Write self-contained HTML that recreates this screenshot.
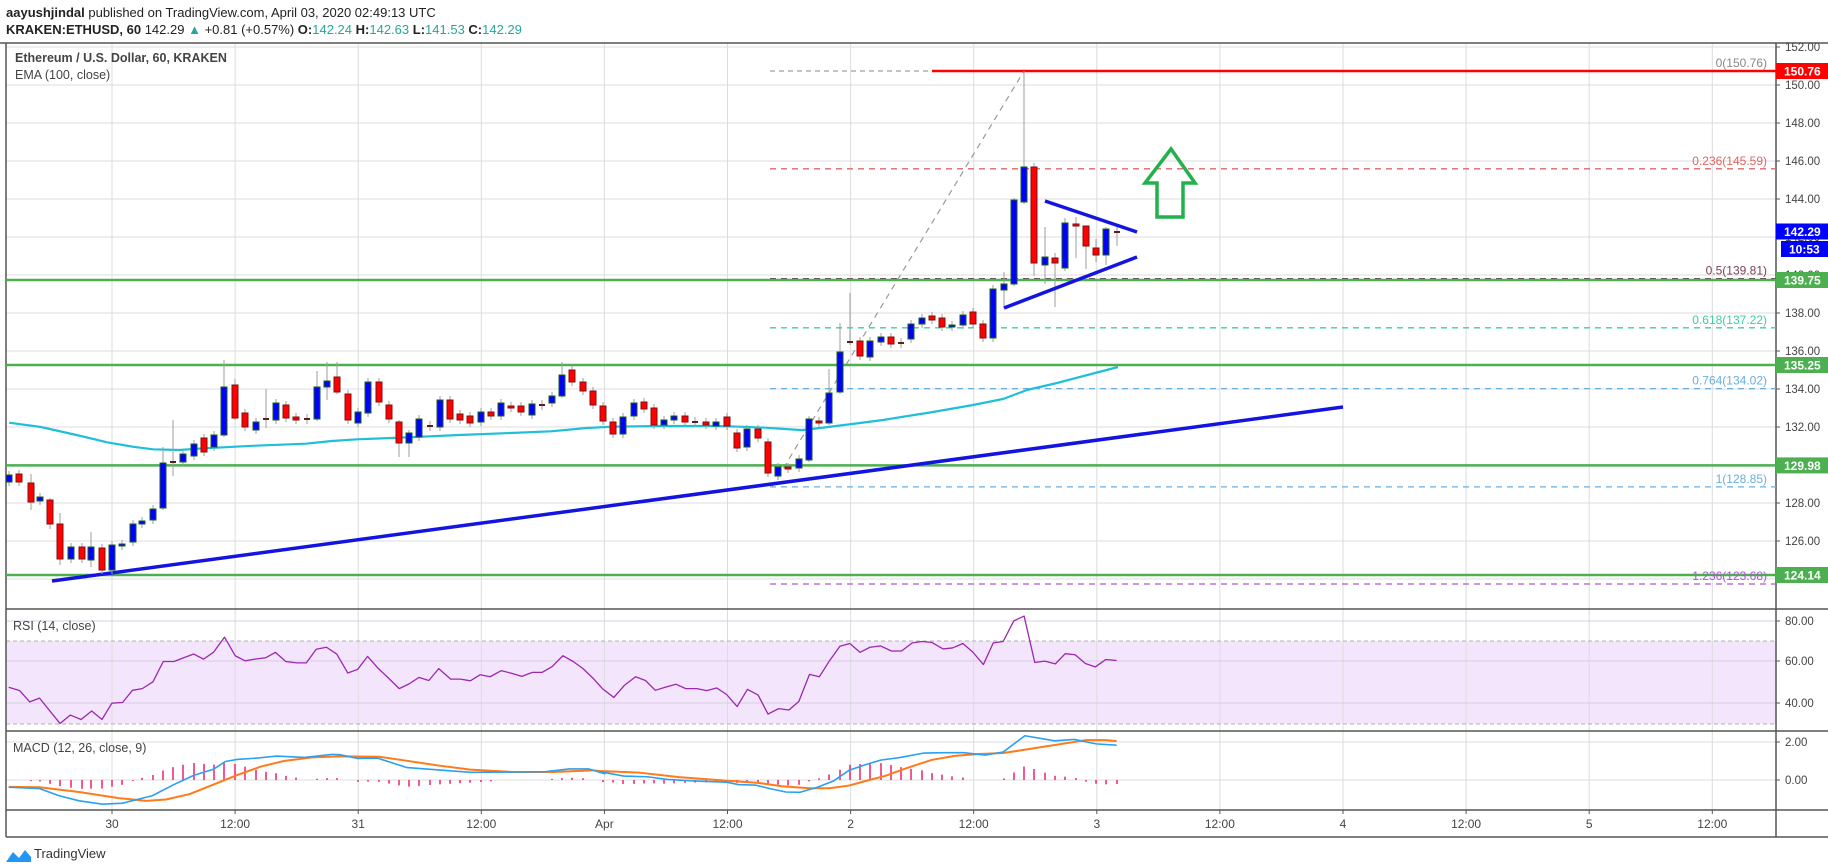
<!DOCTYPE html>
<html><head><meta charset="utf-8">
<style>
html,body{margin:0;padding:0;background:#fff;}
body{width:1828px;height:868px;overflow:hidden;position:relative;font-family:"Liberation Sans",sans-serif;}
.h1{position:absolute;left:6px;top:5px;font-size:13px;color:#222;white-space:nowrap;}
.h2{position:absolute;left:6px;top:22px;font-size:13px;color:#222;white-space:nowrap;}
.t{color:#26a69a}
svg{position:absolute;left:0;top:0}
</style></head><body>
<div class="h1"><b>aayushjindal</b> published on TradingView.com, April 03, 2020 02:49:13 UTC</div>
<div class="h2"><b>KRAKEN:ETHUSD, 60</b> 142.29 <span class="t">▲</span> +0.81 (+0.57%) <b>O:</b><span class="t">142.24</span> <b>H:</b><span class="t">142.63</span> <b>L:</b><span class="t">141.53</span> <b>C:</b><span class="t">142.29</span></div>
<svg id="s" width="1828" height="868" xmlns="http://www.w3.org/2000/svg" font-family="Liberation Sans, sans-serif"></svg>
<script>
const s=document.getElementById('s');const NS='http://www.w3.org/2000/svg';
function el(t,a,txt){const e=document.createElementNS(NS,t);for(const k in a)e.setAttribute(k,a[k]);if(txt!==undefined)e.textContent=txt;s.appendChild(e);return e;}
function ln(x1,y1,x2,y2,c,w,d){const a={x1,y1,x2,y2,stroke:c,'stroke-width':w||1};if(d)a['stroke-dasharray']=d;return el('line',a);}
function pl(pts,c,w){return el('polyline',{points:pts.map(p=>p.join(',')).join(' '),fill:'none',stroke:c,'stroke-width':w||1,'stroke-linejoin':'round'});}
const AX=1776, L=6, TOP=43, MB=609, RB=731, DB=810, XB=837;
const py=p=>85+(150-p)*19;
el('rect',{x:L,y:641,width:AX-L,height:83,fill:'#f3e6fc'});
const G='#dcdcdc';
for(let k=0;k<14;k++){const x=112+123.1*k;ln(x,TOP,x,DB,G,1);}
for(let p=124;p<=152;p+=2){ln(L,py(p),AX,py(p),G,1);}
[621,661,703].forEach(y=>ln(L,y,AX,y,'#d8cce0',1));
[742,780].forEach(y=>ln(L,y,AX,y,G,1));
ln(L,641,AX,641,'#b0b0b0',1,'4,3');ln(L,724,AX,724,'#b0b0b0',1,'4,3');
const F='#555';
ln(0,TOP,1828,TOP,F,1.5);ln(L,TOP,L,XB,F,1.5);ln(AX,TOP,AX,XB,F,1.5);
[MB,RB,DB].forEach(y=>ln(L,y,1828,y,F,1.5));ln(L,XB,1828,XB,F,1.5);
ln(770,71,932,71,'#888',1,'5,4');
const fibs=[[168.8,'#e06666','0.236(145.59)'],[278.6,'#7b3f5a','0.5(139.81)'],[327.8,'#3ccf9f','0.618(137.22)'],[388.6,'#6aaee0','0.764(134.02)'],[486.9,'#6aaee0','1(128.85)'],[584,'#b054d8','1.236(123.68)']];
fibs.forEach(f=>ln(770,f[0],AX,f[0],f[1],1.3,'6,5'));
ln(772,487,1024,71,'#999',1.2,'6,5');
// EMA
const e3=[[18,428],[80,441],[150,465],[210,487],[260,500],[300,508],[350,510],[400,505],[500,497],[600,491],[650,483],[700,478],[800,472],[900,465],[1000,459],[1080,454],[1150,444],[1200,440],[1300,438],[1400,438],[1450,440],[1500,443],[1568,450]].map(p=>[p[0]/1.96,280+p[1]/3]);
pl(e3.concat([[803,430],[820,428],[860,423],[883,420],[933,412],[973,405],[1003,399],[1027,390],[1057,383],[1118,367]]),'#1fbfd8',2.2);
[280,365,465.4,575].forEach(y=>ln(L,y,AX,y,'#4caf50',2.5));
ln(932,71,AX,71,'#ff0000',2.5);
ln(52,581,1343,407,'#1414e0',3.5);
const C=[[9,475,482,'b'],[19,474,482,'r'],[31,483,502,'r'],[40,497,501,'b'],[50,500,524,'r'],[60,524,559,'r'],[71,547,559,'b'],[82,547,559,'r'],[91,547,560,'b'],[102,548,570,'r'],[112,545,570,'b'],[122,544,546,'b'],[133,524,542,'b'],[142,521,524,'b'],[153,509,520,'b'],[163,463,508,'b'],[173,461,462,'d'],[183,454,462,'b'],[194,444,456,'b'],[204,438,452,'r'],[214,435,447,'b'],[224,387,435,'b'],[235,385,418,'r'],[245,413,427,'r'],[256,422,430,'b'],[266,418,420,'d'],[276,403,420,'b'],[286,405,418,'r'],[296,417,420,'r'],[307,418,420,'d'],[317,387,419,'b'],[327,381,387,'b'],[337,377,392,'r'],[348,394,420,'r'],[358,412,423,'b'],[368,382,413,'b'],[379,382,402,'r'],[389,405,419,'r'],[399,422,443,'r'],[409,433,443,'b'],[419,419,437,'b'],[430,425,427,'d'],[440,400,427,'b'],[450,400,419,'r'],[460,414,420,'r'],[470,416,423,'r'],[481,412,422,'b'],[491,412,416,'r'],[501,403,416,'b'],[511,406,408,'r'],[521,406,412,'r'],[532,404,415,'b'],[542,404,406,'d'],[552,396,403,'b'],[562,375,396,'b'],[572,370,382,'r'],[583,382,391,'r'],[593,391,405,'r'],[603,406,421,'r'],[613,422,434,'r'],[623,417,434,'b'],[634,403,416,'b'],[644,402,409,'r'],[654,408,425,'r'],[664,420,425,'b'],[674,416,420,'b'],[685,416,422,'r'],[695,421,423,'d'],[706,422,425,'r'],[716,422,426,'b'],[727,417,426,'r'],[737,433,448,'r'],[747,429,447,'b'],[758,429,438,'r'],[768,442,473,'r'],[778,467,476,'b'],[788,467,469,'r'],[799,459,468,'b'],[809,419,460,'b'],[819,421,423,'r'],[829,393,423,'b'],[840,352,392,'b'],[850,341,343,'d'],[860,341,356,'r'],[870,341,357,'b'],[881,337,342,'b'],[891,337,344,'r'],[901,342,344,'d'],[911,324,339,'b'],[922,318,324,'b'],[932,316,320,'r'],[942,318,327,'r'],[952,325,327,'b'],[963,315,325,'b'],[973,312,324,'r'],[983,324,338,'r'],[993,289,338,'b'],[1004,284,290,'b'],[1014,200,284,'b'],[1024,167,202,'b'],[1034,167,263,'r'],[1045,257,265,'b'],[1055,258,263,'r'],[1065,223,268,'b'],[1076,224,226,'r'],[1086,226,246,'r'],[1096,248,255,'r'],[1106,229,255,'b'],[1117,231,233,'d']];
const W={31:[474,510],50:[498,529],60:[513,565],91:[532,567],163:[447,510],173:[420,476],224:[360,437],235:[379,420],266:[389,428],317:[371,421],327:[362,400],337:[362,394],399:[420,457],409:[430,457],562:[362,398],809:[416,462],829:[369,425],840:[323,394],850:[293,345],1004:[272,308],1014:[198,286],1024:[71,204],1034:[163,276],1045:[227,284],1055:[253,307],1065:[218,271],1076:[217,258],1086:[226,269],1096:[239,262],1106:[227,265],1117:[227,246]};
C.forEach((c,i)=>{const[x,t,b,k]=c;let w=W[x]||[t-4,b+4];ln(x,w[0],x,w[1],'#9e9e9e',1);
 if(k==='d'){el('rect',{x:x-3,y:t,width:6,height:Math.max(2,b-t),fill:'#5a1e1e'});}
 else el('rect',{x:x-3,y:t,width:6,height:Math.max(2,b-t),fill:k==='b'?'#0000ff':'#ff0000',stroke:k==='b'?'#1b5e20':'#7f1010','stroke-width':1});});
ln(1045,201,1137,232,'#1414e0',3.5);ln(1004,308,1137,257,'#1414e0',3.5);
el('polygon',{points:'1171,149 1145,183 1157,183 1157,217 1183,217 1183,183 1195,183',fill:'none',stroke:'#22b14c','stroke-width':3.5,'stroke-linejoin':'miter'});
el('text',{x:1767,y:67,'font-size':12,fill:'#888','text-anchor':'end'},'0(150.76)');
fibs.forEach(f=>el('text',{x:1767,y:f[0]-4,'font-size':12,fill:f[1],'text-anchor':'end'},f[2]));
const r7=[[22,253],[50,263],[75,296],[100,285],[152,360],[178,335],[205,348],[232,323],[258,348],[283,300],[310,298],[335,262],[360,257],[387,237],[413,177],[440,177],[490,155],[515,170],[540,150],[568,105],[595,160],[620,175],[645,170],[672,166],[697,150],[723,177],[750,181],[775,181],[800,141],[826,135],[852,155],[880,211],[905,200],[930,162],[955,195],[982,225],[1010,257],[1035,243],[1060,224],[1085,233],[1110,198],[1140,229],[1165,229],[1190,234],[1215,216],[1240,222],[1268,204],[1295,212],[1320,221],[1347,209],[1372,209],[1397,192],[1424,160],[1450,177],[1475,198],[1500,226],[1525,258],[1553,283]];
const r8=[[35,283],[62,247],[90,222],[115,233],[140,262],[165,253],[192,244],[217,257],[245,257],[270,263],[295,255],[320,274],[347,310],[373,259],[400,276],[425,332],[452,316],[478,320],[503,295],[530,215],[555,222],[580,176],[607,132],[632,124],[658,150],[683,135],[710,131],[737,146],[763,146],[790,122],[815,118],[840,121],[868,140],[892,137],[918,124],[943,149],[970,186],[995,122],[1020,118],[1047,57],[1073,43],[1100,180],[1125,176],[1152,184],[1177,154],[1202,157],[1228,183],[1253,193],[1280,171],[1307,174]];
const cv=(a,ox)=>a.map(p=>[ox+p[0]/2.53,601.5+p[1]/2.95]);
pl(cv(r7,0).concat(cv(r8,600)),'#9c27b0',1.3);
const b7=[[22,548],[100,552],[150,573],[200,588],[260,598],[310,595],[385,573],[440,540],[490,513],[540,495],[570,472],[600,466],[650,462],[700,456],[770,460],[840,451],[860,452],[905,463],[955,462],[1030,490],[1110,497],[1190,504],[1300,503],[1380,502],[1440,494],[1490,494],[1530,508]];
const o7=[[22,547],[100,548],[200,562],[300,580],[370,588],[420,584],[480,568],[540,540],[600,512],[660,487],[720,470],[790,460],[860,457],[960,458],[1030,470],[1110,484],[1190,496],[1300,503],[1400,503],[1500,498]];
const b8=[[0,502],[60,515],[120,517],[170,525],[250,530],[320,533],[350,540],[395,542],[430,552],[470,562],[505,563],[550,548],[590,530],[630,498],[670,482],[710,468],[760,460],[820,447],[870,446],[920,446],[975,453],[1020,444],[1075,396],[1150,411],[1200,407],[1255,420],[1307,424]];
const o8=[[0,500],[100,505],[200,518],[300,527],[400,535],[460,545],[530,551],[580,551],[630,543],[680,527],[720,515],[780,490],[840,467],[900,455],[960,450],[1020,447],[1060,440],[1120,429],[1180,418],[1230,409],[1280,409],[1307,412]];
const BL=cv(b7,0).concat(cv(b8,600)), OL=cv(o7,0).concat(cv(o8,600));
function at(P,x){if(x<=P[0][0])return P[0][1];for(let i=1;i<P.length;i++){if(x<=P[i][0]){const t=(x-P[i-1][0])/(P[i][0]-P[i-1][0]);return P[i-1][1]+t*(P[i][1]-P[i-1][1]);}}return P[P.length-1][1];}
C.forEach(c=>{const x=c[0];if(x<12)return;const d=at(BL,x)-at(OL,x);if(Math.abs(d)>1)ln(x,780,x,780+d,'#f0206e',1.5);});
pl(OL,'#ff7a1a',2);pl(BL,'#2aa0f0',1.6);
el('text',{x:15,y:62,'font-size':12.5,fill:'#444','font-weight':'bold'},'Ethereum / U.S. Dollar, 60, KRAKEN');
el('text',{x:15,y:79,'font-size':12.5,fill:'#444'},'EMA (100, close)');
el('text',{x:13,y:630,'font-size':12.5,fill:'#444'},'RSI (14, close)');
el('text',{x:13,y:752,'font-size':12.5,fill:'#444'},'MACD (12, 26, close, 9)');
for(let p=124;p<=152;p+=2){const y=py(p);ln(AX,y,AX+4,y,'#555',1);el('text',{x:1785,y:y+4,'font-size':11.5,fill:'#444'},p.toFixed(2));}
[[621,'80.00'],[661,'60.00'],[703,'40.00'],[742,'2.00'],[780,'0.00']].forEach(a=>{ln(AX,a[0],AX+4,a[0],'#555',1);el('text',{x:1785,y:a[0]+4,'font-size':11.5,fill:'#444'},a[1]);});
function tag(y,bg,t,x0){el('rect',{x:x0||AX,y:y-8,width:1828-(x0||AX),height:16,fill:bg});el('text',{x:(x0||AX)+8,y:y+4.5,'font-size':12,fill:'#fff','font-weight':'bold'},t);}
tag(71,'#ff0000','150.76');tag(231.5,'#0000ff','142.29');tag(249,'#0000ff','10:53',1781);
tag(280,'#4caf50','139.75');tag(365,'#4caf50','135.25');tag(465.4,'#4caf50','129.98');tag(575,'#4caf50','124.14');
['30','12:00','31','12:00','Apr','12:00','2','12:00','3','12:00','4','12:00','5','12:00'].forEach((t,k)=>{const x=112+123.1*k;ln(x,DB,x,DB+4,'#555',1);el('text',{x:x,y:828,'font-size':12,fill:'#444','text-anchor':'middle'},t);});
el('path',{d:'M6 862 L13 852 L19 858 L25 850 L31 857 L31 862 Z',fill:'#2196f3'});
el('text',{x:34,y:858,'font-size':13,fill:'#333'},'TradingView');
</script>
</body></html>
